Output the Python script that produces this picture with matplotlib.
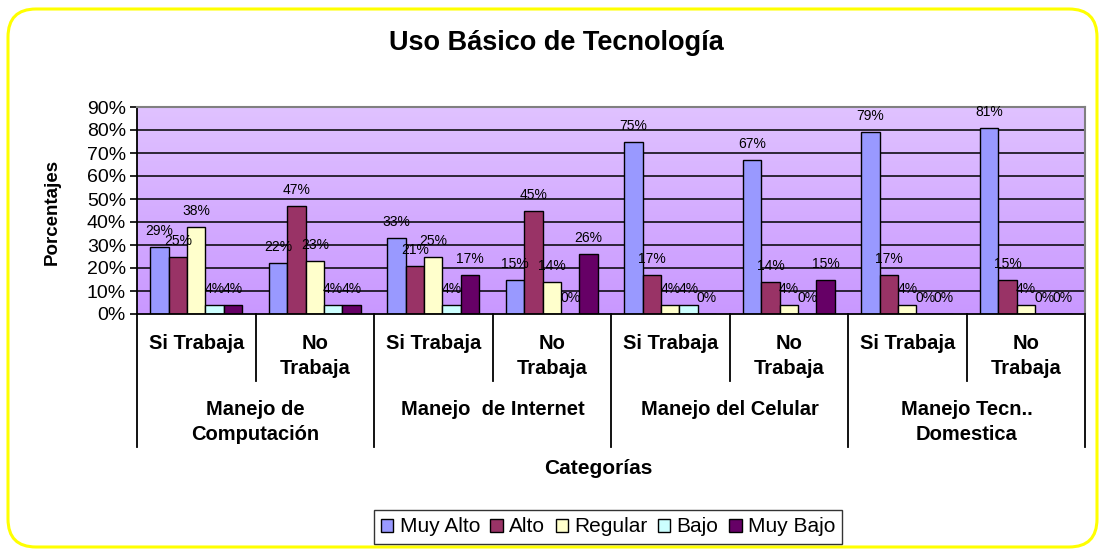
import numpy as np
import matplotlib
matplotlib.use("Agg")
import matplotlib.pyplot as plt
import matplotlib.transforms as mtransforms
from matplotlib.patches import FancyBboxPatch, Patch
from matplotlib.colors import LinearSegmentedColormap

plt.rcParams['font.family'] = ['Liberation Sans', 'DejaVu Sans']

# data (percent)
subgroups = ["Si Trabaja", "No\nTrabaja"] * 4
groups = ["Manejo de\nComputación", "Manejo  de Internet", "Manejo del Celular", "Manejo Tecn..\nDomestica"]
series = ["Muy Alto", "Alto", "Regular", "Bajo", "Muy Bajo"]
muy_alto = [29, 22, 33, 15, 75, 67, 79, 81]
alto = [25, 47, 21, 45, 17, 14, 17, 15]
regular = [38, 23, 25, 14, 4, 4, 4, 4]
bajo = [4, 4, 4, 0, 4, 0, 0, 0]
muy_bajo = [4, 4, 17, 26, 0, 15, 0, 0]
colors = ["#9999FF", "#993366", "#FFFFCC", "#CCFFFF", "#660066"]

W, H = 1100, 550
fig = plt.figure(figsize=(11, 5.5), dpi=100)

# yellow rounded frame
frame = FancyBboxPatch((0.08, 0.03), 10.89, 5.38, boxstyle="round,pad=0,rounding_size=0.28",
                       transform=fig.dpi_scale_trans, facecolor="white", edgecolor="#FFFF00",
                       lw=2.2, zorder=-5)
fig.add_artist(frame)

ax = fig.add_axes([137 / W, 1 - 314 / H, (1085 - 137) / W, (314 - 107) / H])
ax.set_xlim(0, 8)
ax.set_ylim(0, 0.9)

# gradient plot background
cmap = LinearSegmentedColormap.from_list("bg", ["#C998FF", "#E0C2FF"])
ax.imshow(np.linspace(0, 1, 256).reshape(-1, 1), extent=[0, 8, 0, 0.9], origin="lower",
          aspect="auto", cmap=cmap, zorder=0)

for y in np.arange(0.1, 0.85, 0.1):
    ax.axhline(y, color="black", lw=1.1, zorder=1)

x = np.arange(8) + 0.5
bw = 0.155
for j, (name, vals) in enumerate(zip(series, [muy_alto, alto, regular, bajo, muy_bajo])):
    xs = x + (j - 2) * bw
    ax.bar(xs, np.array(vals) / 100, width=bw, color=colors[j], edgecolor="black", lw=1.0, zorder=2)
    for xi, v in zip(xs, vals):
        ax.annotate(f"{v}%", (xi, v / 100), xytext=(0, 11.5), textcoords="offset points",
                    ha="center", va="center", fontsize=10, zorder=3, annotation_clip=False)

ax.set_yticks(np.arange(0, 0.91, 0.1))
ax.set_yticklabels([f"{int(round(t * 100))}%" for t in np.arange(0, 0.91, 0.1)], fontsize=14)
ax.tick_params(axis="y", direction="out", length=5, width=1.2, pad=3)
ax.set_xticks([])
for s in ["top", "right"]:
    ax.spines[s].set_color("#808080")
    ax.spines[s].set_linewidth(1.5)
for s in ["left", "bottom"]:
    ax.spines[s].set_color("black")
    ax.spines[s].set_linewidth(1.3)

# category axis (two levels)
blend = mtransforms.blended_transform_factory(ax.transData, fig.transFigure)
def fy(p):
    return 1 - p / H

for b in [1, 3, 5, 7]:
    ax.plot([b, b], [fy(314), fy(381)], color="black", lw=1.3, transform=blend, clip_on=False)
for b in [0, 2, 4, 6, 8]:
    ax.plot([b, b], [fy(314), fy(447)], color="black", lw=1.3, transform=blend, clip_on=False)

for xi, lab in zip(x, subgroups):
    ax.text(xi, fy(334), lab, transform=blend, ha="center", va="top", fontsize=14.5,
            fontweight="bold", linespacing=1.4)
for i, lab in enumerate(groups):
    ax.text(2 * i + 1, fy(400), lab, transform=blend, ha="center", va="top", fontsize=14.5,
            fontweight="bold", linespacing=1.4)

fig.text(598 / W, fy(468), "Categorías", ha="center", va="center", fontsize=15, fontweight="bold")
fig.text(52 / W, fy(212), "Porcentajes", ha="center", va="center", rotation=90, fontsize=13.5,
         fontweight="bold")
fig.text(556 / W, fy(43), "Uso Básico de Tecnología", ha="center", va="center", fontsize=19.5,
         fontweight="bold")

handles = [Patch(facecolor=c, edgecolor="black", lw=1.0) for c in colors]
leg = fig.legend(handles, series, loc="center", bbox_to_anchor=(608 / W, fy(527)), ncol=5,
                 fontsize=15, frameon=True, fancybox=False, handlelength=0.6, handleheight=0.6,
                 handletextpad=0.3, columnspacing=0.5, borderpad=0.35, borderaxespad=0)
leg.get_frame().set_edgecolor("black")
leg.get_frame().set_linewidth(1.0)

fig.savefig("out.png", dpi=100)
